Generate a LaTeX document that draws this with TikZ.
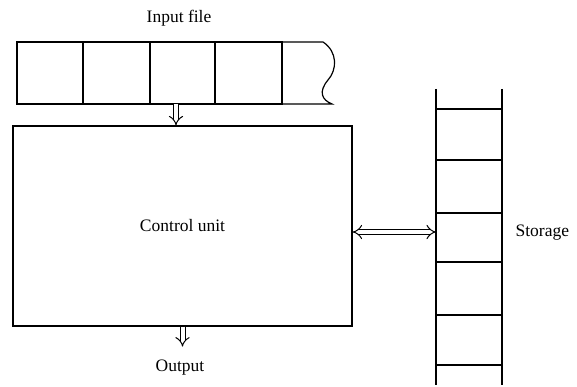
\documentclass[tikz,border=0pt]{standalone}
\usepackage{fontspec}
\setmainfont{Liberation Serif}
\usetikzlibrary{arrows.meta}
\begin{document}
\begin{tikzpicture}[x=1pt,y=-1pt, line width=1.2pt,
  >={Implies[scale=1.3]},
  lbl/.style={font=\fontsize{17.5}{20}\selectfont, inner sep=0pt},
  cell/.style={draw, minimum height=62pt, inner sep=0pt, outer sep=0pt},
  hollow/.style={double, double distance=4pt, line width=1pt}]
\useasboundingbox (0,0) rectangle (577,387);
% input tape
\node[lbl] (inlbl) at (179,18) {Input file};
\node[cell, minimum width=66pt] (c1) at (50,73) {};
\node[cell, minimum width=67pt] (c2) at (116.5,73) {};
\node[cell, minimum width=65pt] (c3) at (182.5,73) {};
\node[cell, minimum width=67pt] (c4) at (248.5,73) {};
\draw (c4.north east) -- (323,42) .. controls (338,52) and (337,70) .. (328,80)
  .. controls (318,92) and (322,100) .. (332,104) -- (c4.south east);
% control unit
\node[draw, lbl, minimum width=339pt, minimum height=200pt, inner sep=0pt] (cu) at (182.5,226) {Control unit};
\coordinate (tin) at (176,104);
\draw[hollow, ->] (tin) -- (tin |- cu.north);
% storage
\foreach \y in {109,160,213,262,315,365} \draw (436,\y) -- (502,\y);
\draw (436,89) -- (436,385);
\draw (502,89) -- (502,385);
\coordinate (stL) at (436,232);
\node[lbl, anchor=west] (st) at (515,233) {Storage};
\draw[hollow, <->] (cu.east |- stL) -- (stL);
% output
\node[lbl] (out) at (180,368) {Output};
\draw[hollow, ->] (cu.south) -- ++(0,20);
\end{tikzpicture}
\end{document}
